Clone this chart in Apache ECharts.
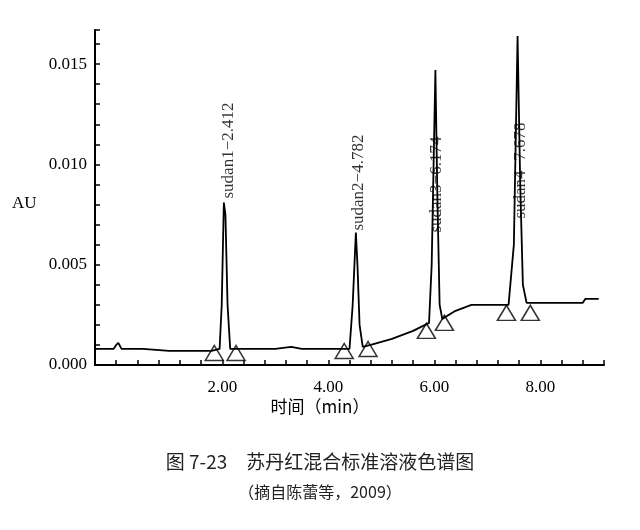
<!DOCTYPE html>
<html>
<head>
<meta charset="utf-8">
<script src="https://cdn.jsdelivr.net/npm/echarts@6/dist/echarts.min.js"></script>
<style>html,body{margin:0;padding:0;background:#fff}#main{width:640px;height:530px}</style>
</head>
<body>
<div id="main"></div>
<script>
// chromatogram trace [time, AU]
var trace = [[-0.4,0.0008],[-0.05,0.0008],[0.0,0.0010],[0.04,0.0011],[0.1,0.0008],[0.5,0.0008],[1.0,0.0007],
  [1.8,0.0007],[1.95,0.0008],[1.99,0.003],[2.03,0.0081],[2.06,0.0075],[2.1,0.003],[2.15,0.0008],[2.5,0.0008],[3.0,0.0008],
  [3.3,0.0009],[3.5,0.0008],[4.0,0.0008],[4.4,0.0008],[4.46,0.003],[4.52,0.0066],[4.55,0.005],[4.59,0.002],[4.65,0.0009],
  [4.8,0.0010],[5.2,0.0013],[5.6,0.0017],[5.9,0.0021],[5.95,0.005],[6.02,0.0147],[6.06,0.008],[6.1,0.003],[6.15,0.0023],
  [6.4,0.0027],[6.7,0.0030],[7.4,0.0030],[7.5,0.006],[7.57,0.0164],[7.62,0.009],[7.67,0.004],[7.74,0.0031],[8.5,0.0031],
  [8.8,0.0031],[8.85,0.0033],[9.1,0.0033]];
var triangles = [[1.85,0.0006],[2.26,0.0006],[4.30,0.0007],[4.75,0.0008],[5.85,0.0017],[6.19,0.0021],[7.36,0.0026],[7.81,0.0026]];
var peakNames = ['sudan1\u22122.412','sudan2\u22124.782','sudan3\u22126.174','sudan4\u22127.678'];
var labelPos = [[2.11,0.0083],[4.57,0.0067],[6.04,0.0066],[7.62,0.0073]];
var xLabels = [2, 4, 6, 8];

var font = '"Liberation Serif","DejaVu Serif",serif';
var chart = echarts.init(document.getElementById('main'));
var option = {
  animation: false,
  grid: {left: 95, right: 36, top: 30, bottom: 165},
  xAxis: {
    type: 'value', min: -0.4, max: 9.2, interval: 0.4,
    axisLine: {onZero: false, lineStyle: {color: '#000', width: 2}},
    axisTick: {inside: true, length: 5, lineStyle: {color: '#000', width: 1.5}},
    splitLine: {show: false},
    axisLabel: {
      color: '#000', fontFamily: font, fontSize: 17, margin: 14,
      formatter: function (v) {
        var r = Math.round(v);
        return (Math.abs(v - r) < 0.01 && xLabels.indexOf(r) >= 0) ? r.toFixed(2) : '';
      }
    }
  },
  yAxis: {
    type: 'value', min: 0, max: 0.0167, interval: 0.001,
    axisLine: {show: true, onZero: false, lineStyle: {color: '#000', width: 2}},
    axisTick: {inside: true, length: 5, lineStyle: {color: '#000', width: 1.5}},
    splitLine: {show: false},
    axisLabel: {
      color: '#000', fontFamily: font, fontSize: 17, margin: 8,
      formatter: function (v) {
        var k = Math.round(v * 1000);
        return (Math.abs(v * 1000 - k) < 0.01 && k % 5 === 0) ? v.toFixed(3) : '';
      }
    }
  },
  series: [
    {type: 'line', data: trace, symbol: 'none', lineStyle: {color: '#000', width: 1.8}},
    {type: 'scatter', data: triangles, symbol: 'triangle', symbolSize: [18, 15],
      itemStyle: {color: '#fff', borderColor: '#000', borderWidth: 1.5}},
    {type: 'scatter', symbolSize: 0,
      data: labelPos.map(function (p, i) { return {value: p, name: peakNames[i]}; }),
      label: {show: true, position: [0, 0], rotate: 90, align: 'left', verticalAlign: 'middle',
        formatter: '{b}', color: '#000', fontFamily: font, fontSize: 17}}
  ],
  graphic: [
    {type: 'text', left: 12, top: 195, style: {text: 'AU', font: '17px ' + font, fill: '#000'}},
    {type: 'text', left: 'center', top: 398, style: {text: '时间（min）', font: '17px "Noto Sans CJK SC"', fill: '#000'}},
    {type: 'text', left: 'center', top: 452, style: {text: '图 7-23　苏丹红混合标准溶液色谱图', font: '19px "Noto Sans CJK SC"', fill: '#222'}},
    {type: 'text', left: 'center', top: 484, style: {text: '（摘自陈蕾等，2009）', font: '16px "Noto Sans CJK SC"', fill: '#222'}}
  ]
};
chart.setOption(option);
</script>
</body>
</html>
